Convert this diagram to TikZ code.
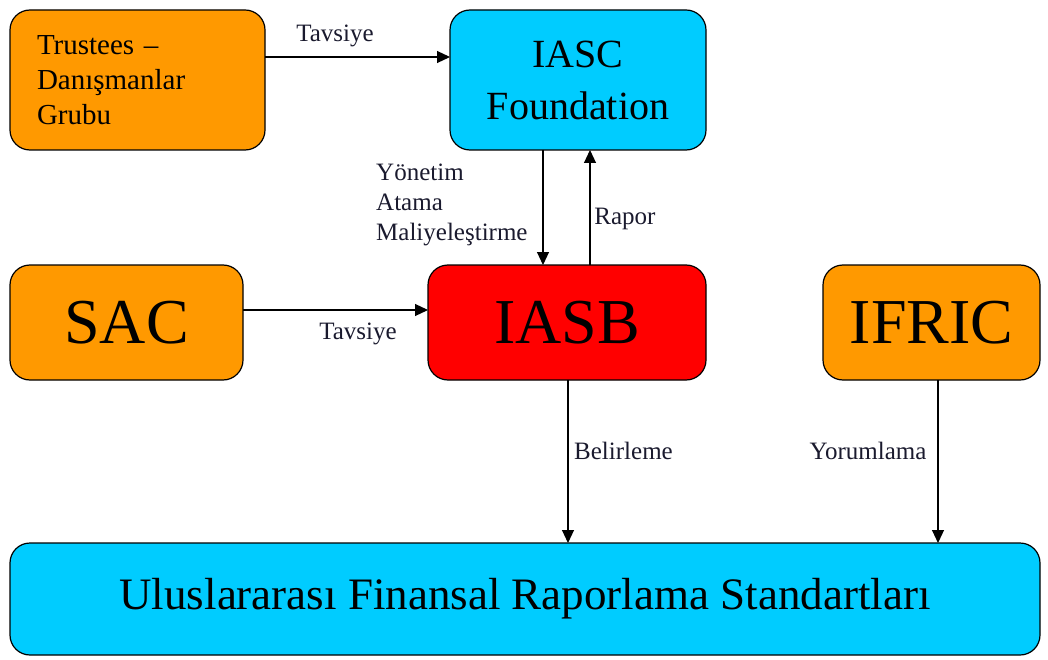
\documentclass[tikz,border=0pt]{standalone}
\usepackage{fontspec}
\setmainfont{Liberation Serif}
\usetikzlibrary{arrows.meta,calc}
\definecolor{orng}{HTML}{FF9900}
\definecolor{cyn}{HTML}{00CCFF}
\definecolor{rd}{HTML}{FF0000}
\definecolor{lbl}{HTML}{1A1A2E}
\tikzset{
  box/.style={draw=black, line width=1.2pt, rounded corners=20pt, anchor=north west, outer sep=0pt, inner sep=0pt},
  arr/.style={draw=black, line width=1.1pt, -{Triangle[length=13pt,width=12pt]}},
  lab/.style={text=lbl, font=\fontsize{25}{30}\selectfont, inner sep=0pt}
}
\begin{document}
\begin{tikzpicture}[x=1pt,y=-1pt]
\useasboundingbox (0,0) rectangle (1048,660);
\node[box, fill=orng, minimum width=255pt, minimum height=140pt, text width=201pt, align=left, inner xsep=27pt, font=\fontsize{29}{35}\selectfont] (tr) at (10,10) {Trustees --\\Danışmanlar\\Grubu};
\node[box, fill=cyn, minimum width=256pt, minimum height=140pt, align=center, font=\fontsize{40}{52}\selectfont] (iasc) at (450,10) {IASC\\Foundation};
\node[box, fill=orng, minimum width=233pt, minimum height=115pt, font=\fontsize{64}{70}\selectfont] (sac) at (10,265) {SAC};
\node[box, fill=rd, minimum width=278pt, minimum height=115pt, font=\fontsize{64}{70}\selectfont] (iasb) at (428,265) {IASB};
\node[box, fill=orng, minimum width=217pt, minimum height=115pt, font=\fontsize{64}{70}\selectfont] (ifric) at (823,265) {IFRIC};
\node[box, fill=cyn, minimum width=1030pt, minimum height=112pt, font=\fontsize{45}{50}\selectfont] (uf) at (10,543) {Uluslararası Finansal Raporlama Standartları};

\draw[arr] ([yshift=23pt]tr.east) -- ([yshift=23pt]tr.east -| iasc.west);
\draw[arr] ([xshift=-35pt]iasc.south) -- ([xshift=-35pt]iasc.south |- iasb.north);
\draw[arr] ([xshift=23pt]iasb.north) -- ([xshift=23pt]iasb.north |- iasc.south);
\draw[arr] ([yshift=12.5pt]sac.east) -- ([yshift=12.5pt]sac.east -| iasb.west);
\draw[arr] ([xshift=1pt]iasb.south) -- ([xshift=1pt]iasb.south |- uf.north);
\draw[arr] ([xshift=6.5pt]ifric.south) -- ([xshift=6.5pt]ifric.south |- uf.north);

\node[lab] (l1) at (335,36) {Tavsiye};
\node[lab] (l2) at (358,334) {Tavsiye};
\node[lab, align=left, anchor=north west] (l3) at (376,164) {Yönetim\\Atama\\Maliyeleştirme};
\node[lab] (l4) at (625,219) {Rapor};
\node[lab, anchor=west] (l5) at (574,451) {Belirleme};
\node[lab] (l6) at (868,451) {Yorumlama};
\end{tikzpicture}
\end{document}
